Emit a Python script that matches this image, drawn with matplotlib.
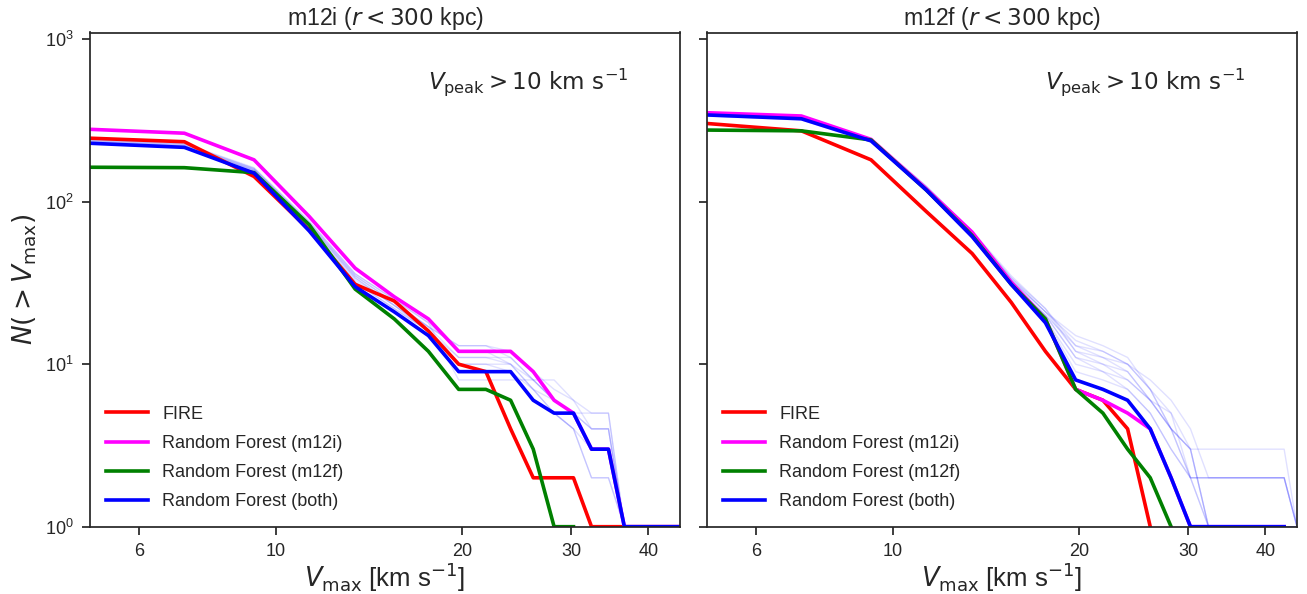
import numpy as np
import matplotlib
matplotlib.use("Agg")
import matplotlib.pyplot as plt
from matplotlib.ticker import FixedLocator, FixedFormatter, NullLocator, LogFormatterMathtext

plt.rcParams['font.family'] = ['Liberation Sans', 'DejaVu Sans']
plt.rcParams['mathtext.fontset'] = 'dejavusans'
plt.rcParams['text.color'] = '.15'
plt.rcParams['axes.labelcolor'] = '.15'
plt.rcParams['xtick.color'] = '.15'
plt.rcParams['ytick.color'] = '.15'
plt.rcParams['axes.edgecolor'] = '.15'

# ---------------- data ----------------
vmax = np.linspace(5, 45, 20)

titles = [r'm12i ($r < 300$ kpc)', r'm12f ($r < 300$ kpc)']
labels = ['FIRE', 'Random Forest (m12i)', 'Random Forest (m12f)', 'Random Forest (both)']
colors = ['#ff0000', '#ff00ff', '#008000', '#0000ff']

# m12i panel
m12i_fire = [246, 234, 143, 67, 31, 24.5, 16, 10, 9, 4, 2, 2, 2, 1, 1, 1, 1, 1, 1, 1]
m12i_rf_m12i = [279, 264, 181, 81, 39, 26, 19, 12, 12, 12, 9, 6, 5, 3, 3, 1, 1, 1, 1, 1]
m12i_rf_m12f = [163, 162, 151, 72, 29, 19, 12, 7, 7, 6, 3, 1, 1, 0, 0, 0, 0, 0, 0, 0]
m12i_rf_both = [229, 216, 150, 66, 30, 21, 15, 9, 9, 9, 6, 5, 5, 3, 3, 1, 1, 1, 1, 1]

m12i_realisations = [
    [240, 225, 160, 74, 35, 24, 17, 13, 13, 12, 9, 7, 6, 5, 5, 1, 1, 1, 1, 1],
    [235, 220, 156, 72, 34, 23, 17, 13, 13, 11, 8, 6, 5, 4, 4, 1, 1, 1, 1, 1],
    [232, 218, 155, 70, 33, 23, 16, 11, 11, 11, 8, 6, 5, 4, 4, 1, 1, 1, 1, 1],
    [238, 222, 158, 73, 35, 24, 17, 11, 11, 10, 7, 5, 4, 2, 2, 1, 1, 1, 1, 1],
    [228, 214, 152, 68, 32, 22, 16, 10, 10, 10, 7, 6, 5, 3, 3, 1, 1, 1, 1, 1],
    [236, 221, 157, 72, 34, 23, 16, 10, 10, 9, 7, 5, 4, 2, 2, 1, 1, 1, 1, 1],
    [242, 226, 160, 75, 36, 25, 18, 8, 8, 8, 8, 8, 6, 4, 4, 1, 1, 1, 1, 1],
    [230, 216, 153, 69, 32, 22, 16, 9, 9, 9, 6, 5, 4, 3, 3, 1, 1, 1, 1, 1],
    [244, 228, 162, 76, 36, 25, 18, 12, 12, 10, 8, 6, 5, 5, 5, 1, 1, 1, 1, 1],
]

# m12f panel
m12f_fire = [303, 273, 181, 87, 48, 24, 12, 7, 6, 4, 1, 0, 0, 0, 0, 0, 0, 0, 0, 0]
m12f_rf_m12i = [353, 337, 242, 120, 65, 32, 19, 7, 6, 5, 4, 2, 1, 1, 1, 1, 1, 1, 1, 0]
m12f_rf_m12f = [276, 273, 240, 118, 62, 31, 19, 7, 5, 3, 2, 1, 0, 0, 0, 0, 0, 0, 0, 0]
m12f_rf_both = [342, 324, 237, 118, 61, 31, 18, 8, 7, 6, 4, 2, 1, 1, 1, 1, 1, 1, 1, 0]

m12f_realisations = [
    [345, 328, 240, 122, 64, 33, 21, 15, 13, 11, 7, 4, 3, 3, 3, 3, 3, 3, 3, 1],
    [340, 322, 236, 120, 63, 32, 20, 13, 12, 10, 7, 5, 2, 2, 2, 2, 2, 2, 2, 1],
    [348, 330, 242, 124, 65, 34, 21, 12, 11, 9, 6, 4, 2, 2, 2, 2, 2, 2, 2, 1],
    [338, 320, 234, 118, 62, 32, 20, 11, 10, 9, 6, 4, 3, 1, 1, 1, 1, 1, 1, 1],
    [344, 326, 238, 121, 64, 33, 21, 14, 12, 10, 8, 6, 4, 2, 2, 2, 2, 2, 2, 1],
    [342, 325, 237, 119, 63, 32, 19, 10, 9, 8, 6, 5, 3, 1, 1, 1, 1, 1, 1, 1],
    [346, 327, 240, 123, 65, 34, 22, 13, 11, 10, 7, 4, 3, 1, 1, 1, 1, 1, 1, 1],
    [340, 324, 236, 118, 62, 31, 19, 9, 8, 7, 5, 3, 2, 1, 1, 1, 1, 1, 1, 1],
    [350, 332, 244, 125, 66, 35, 22, 12, 10, 8, 6, 4, 2, 1, 1, 1, 1, 1, 1, 1],
    [336, 318, 232, 117, 61, 31, 20, 11, 9, 7, 5, 3, 2, 2, 2, 2, 2, 2, 2, 1],
]

annotation = r'$V_{\rm peak} > 10\ {\rm km\ s^{-1}}$'
xticks = [6, 10, 20, 30, 40]
xticklabels = ['6', '10', '20', '30', '40']

panels = [
    (m12i_fire, m12i_rf_m12i, m12i_rf_m12f, m12i_rf_both, m12i_realisations),
    (m12f_fire, m12f_rf_m12i, m12f_rf_m12f, m12f_rf_both, m12f_realisations),
]

# ---------------- figure ----------------
W, H = 1307, 594
fig = plt.figure(figsize=(W / 100, H / 100), dpi=100)
bottom = 1 - 526.7 / H
top = 1 - 32.5 / H
ax1 = fig.add_axes([90 / W, bottom, 590 / W, top - bottom])
ax2 = fig.add_axes([707 / W, bottom, 590 / W, top - bottom], sharey=ax1)
axes = [ax1, ax2]

for i, (ax, data) in enumerate(zip(axes, panels)):
    fire, rf_i, rf_f, rf_b, reals = data
    ax.set_xscale('log')
    ax.set_yscale('log', nonpositive='mask')
    for r in reals:
        ax.plot(vmax, np.array(r, float), color='#0000ff', lw=1.0, alpha=0.12, zorder=1)
    for series, c, lab in zip([fire, rf_i, rf_f, rf_b], colors, labels):
        ax.plot(vmax, np.array(series, float), color=c, lw=2.6, label=lab, zorder=2)
    ax.set_xlim(5, 45)
    ax.set_ylim(1, 1.1e3)
    ax.xaxis.set_major_locator(FixedLocator(xticks))
    ax.xaxis.set_major_formatter(FixedFormatter(xticklabels))
    ax.xaxis.set_minor_locator(NullLocator())
    ax.yaxis.set_major_locator(FixedLocator([1, 10, 100, 1000]))
    ax.yaxis.set_major_formatter(LogFormatterMathtext())
    ax.yaxis.set_minor_locator(NullLocator())
    ax.tick_params(axis='both', which='major', direction='out', length=6, width=1.25,
                   labelsize=13, pad=6)
    for s in ax.spines.values():
        s.set_linewidth(1.25)
    ax.set_title(titles[i], fontsize=16.7, pad=5)
    ax.set_xlabel(r'$V_{\rm max}$ [km s$^{-1}$]', fontsize=18.5, labelpad=0)
    ax.text(0.573, 0.9, annotation, transform=ax.transAxes, fontsize=16.6,
            ha='left', va='center')
    ax.legend(loc='lower left', frameon=False, fontsize=13, handlelength=2.3,
              handletextpad=0.8, labelspacing=0.68)

ax1.set_ylabel(r'$N(>V_{\rm max})$', fontsize=19)
plt.setp(ax2.get_yticklabels(), visible=False)

fig.savefig('out.png', dpi=100)
